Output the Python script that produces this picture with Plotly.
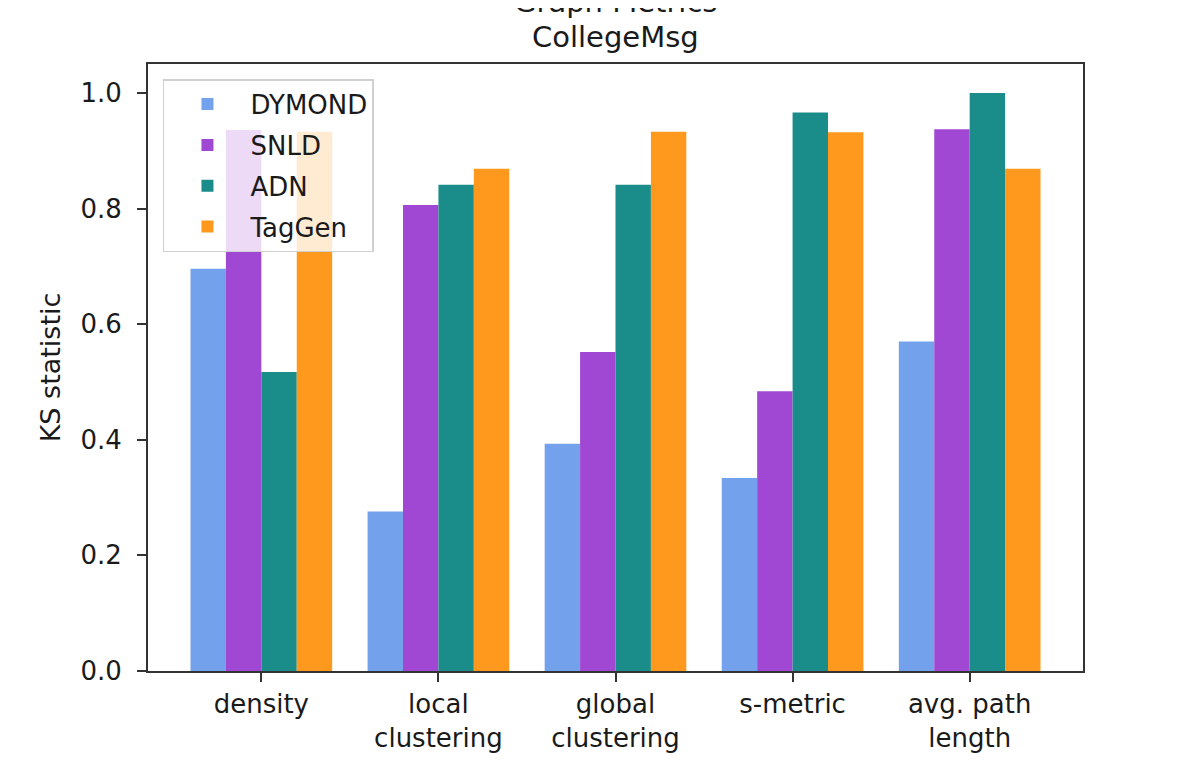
import plotly.graph_objects as go

categories = ["density", "local<br>clustering", "global<br>clustering", "s-metric", "avg. path<br>length"]
series_names = ["DYMOND", "SNLD", "ADN", "TagGen"]
dymond = [0.696, 0.276, 0.393, 0.334, 0.570]
snld = [0.936, 0.806, 0.552, 0.484, 0.937]
adn = [0.517, 0.841, 0.841, 0.966, 1.000]
taggen = [0.933, 0.869, 0.933, 0.932, 0.869]
colors = ["#74a1ec", "#a047d3", "#1a8c89", "#fe991d"]
yticks = [0.0, 0.2, 0.4, 0.6, 0.8, 1.0]
title_lines = ["Graph Metrics", "CollegeMsg"]

fig = go.Figure()
for name, vals, col in zip(series_names, [dymond, snld, adn, taggen], colors):
    fig.add_trace(go.Bar(x=categories, y=vals, name=name, marker_color=col,
                         marker_line_width=0, legendgroup=name))

font = "DejaVu Sans"
plot_h = 767 - 56 - 104
fig.update_layout(
    width=1196, height=767,
    barmode="group", bargap=0.2, bargroupgap=0,
    plot_bgcolor="white", paper_bgcolor="white",
    margin=dict(l=140, r=121, t=56, b=104),
    font=dict(family=font, size=26, color="#1a1a1a"),
    showlegend=True,
    legend=dict(x=0.016, y=0.975, xanchor="left", yanchor="top",
                bgcolor="rgba(255,255,255,0.8)", bordercolor="#d0d0d0", borderwidth=1.5,
                font=dict(size=26, family=font), tracegroupgap=4, itemwidth=76),
    xaxis=dict(range=[-0.64, 4.64], showline=True, mirror=True, linecolor="#333333", linewidth=2,
               ticks="outside", ticklen=9, tickcolor="#333333", tickwidth=1.5,
               tickfont=dict(size=26, family=font), showgrid=False),
    yaxis=dict(range=[0, 1.05], tickvals=yticks, ticktext=[f"{v:.1f}" for v in yticks],
               showline=True, mirror=True, linecolor="#333333", linewidth=2,
               ticks="outside", ticklen=9, tickcolor="#333333", tickwidth=1.5,
               ticklabelstandoff=10,
               tickfont=dict(size=26, family=font), showgrid=False, zeroline=False,
               title=dict(text="KS statistic", font=dict(size=27, family=font), standoff=12)),
    annotations=[
        dict(text=title_lines[0], xref="paper", yref="paper",
             x=0.5, y=1 + 62 / plot_h, xanchor="center", yanchor="middle", showarrow=False,
             font=dict(size=29, family=font, color="#1a1a1a")),
        dict(text=title_lines[1], xref="paper", yref="paper",
             x=0.5, y=1 + 27 / plot_h, xanchor="center", yanchor="middle", showarrow=False,
             font=dict(size=29, family=font, color="#1a1a1a")),
    ],
)

fig.write_html("out.html")
